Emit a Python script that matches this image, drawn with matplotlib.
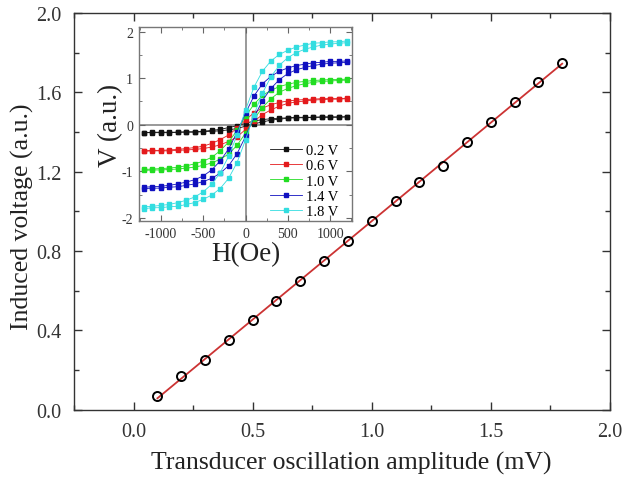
import numpy as np
import matplotlib
matplotlib.use("Agg")
import matplotlib.pyplot as plt
from matplotlib.ticker import MultipleLocator

plt.rcParams['font.family'] = ['Liberation Serif', 'DejaVu Serif']
plt.rcParams['axes.unicode_minus'] = False

# induced voltage vs transducer amplitude
amp = [0.1, 0.2, 0.3, 0.4, 0.5, 0.6, 0.7, 0.8, 0.9, 1.0,
       1.1, 1.2, 1.3, 1.4, 1.5, 1.6, 1.7, 1.8]
volt = [0.07, 0.17, 0.25, 0.35, 0.45, 0.55, 0.65, 0.75, 0.85, 0.95,
        1.05, 1.15, 1.23, 1.35, 1.45, 1.55, 1.65, 1.75]

# inset: V(H) loops for several drive voltages
field = list(range(-1200, 1201, 100))
drive_labels = ['0.2 V', '0.6 V', '1.0 V', '1.4 V', '1.8 V']
drive_colors = ['#111111', '#e41a1c', '#22dd22', '#1010c0', '#33dde0']

v_up = [
    [-0.17, -0.16, -0.16, -0.16, -0.16, -0.15, -0.15, -0.14, -0.12, -0.10, -0.06, -0.02, 0.03,
     0.08, 0.11, 0.13, 0.14, 0.15, 0.16, 0.16, 0.16, 0.17, 0.17, 0.17, 0.17],
    [-0.56, -0.55, -0.55, -0.54, -0.53, -0.51, -0.49, -0.46, -0.40, -0.32, -0.22, -0.07, 0.10,
     0.26, 0.36, 0.43, 0.48, 0.51, 0.53, 0.54, 0.55, 0.56, 0.56, 0.56, 0.57],
    [-0.96, -0.95, -0.94, -0.93, -0.91, -0.88, -0.84, -0.78, -0.70, -0.56, -0.37, -0.12, 0.18,
     0.44, 0.63, 0.74, 0.82, 0.87, 0.91, 0.93, 0.95, 0.96, 0.97, 0.97, 0.98],
    [-1.34, -1.33, -1.32, -1.30, -1.27, -1.23, -1.18, -1.10, -0.97, -0.78, -0.52, -0.16, 0.25,
     0.62, 0.88, 1.04, 1.15, 1.22, 1.27, 1.30, 1.33, 1.34, 1.36, 1.36, 1.37],
    [-1.76, -1.75, -1.73, -1.71, -1.67, -1.62, -1.55, -1.44, -1.28, -1.03, -0.68, -0.22, 0.32,
     0.81, 1.15, 1.37, 1.51, 1.60, 1.67, 1.71, 1.75, 1.76, 1.78, 1.78, 1.80],
]
v_down = [
    [-0.17, -0.17, -0.17, -0.17, -0.16, -0.16, -0.16, -0.15, -0.14, -0.13, -0.11, -0.08, -0.03,
     0.02, 0.06, 0.10, 0.12, 0.14, 0.15, 0.15, 0.16, 0.16, 0.16, 0.16, 0.17],
    [-0.57, -0.56, -0.56, -0.56, -0.55, -0.54, -0.53, -0.51, -0.48, -0.43, -0.36, -0.26, -0.10,
     0.07, 0.22, 0.32, 0.40, 0.46, 0.49, 0.51, 0.53, 0.54, 0.55, 0.55, 0.56],
    [-0.98, -0.97, -0.97, -0.96, -0.95, -0.93, -0.91, -0.87, -0.82, -0.74, -0.63, -0.44, -0.18,
     0.12, 0.37, 0.56, 0.70, 0.78, 0.84, 0.88, 0.91, 0.93, 0.94, 0.95, 0.96],
    [-1.37, -1.36, -1.36, -1.34, -1.33, -1.30, -1.27, -1.22, -1.15, -1.04, -0.88, -0.62, -0.25,
     0.16, 0.52, 0.78, 0.97, 1.10, 1.18, 1.23, 1.27, 1.30, 1.32, 1.33, 1.34],
    [-1.80, -1.78, -1.78, -1.76, -1.75, -1.71, -1.67, -1.60, -1.51, -1.37, -1.15, -0.81, -0.32,
     0.22, 0.68, 1.03, 1.28, 1.44, 1.55, 1.62, 1.67, 1.71, 1.73, 1.75, 1.76],
]

fig = plt.figure(figsize=(6.28, 4.81), dpi=100)
ax = fig.add_axes([0.118, 0.146, 0.853, 0.825])

# linear fit through the measured points
k, b = np.polyfit(amp, volt, 1)
xfit = np.array([amp[0], amp[-1]])
ax.plot(xfit, k * xfit + b, color='#cc3333', lw=1.3, zorder=2)
ax.plot(amp, volt, 'o', ms=6.5, mfc='none', mec='black', mew=1.4, zorder=3)

ax.set_xlim(-0.25, 2.0)
ax.set_ylim(0.0, 2.0)
ax.xaxis.set_major_locator(MultipleLocator(0.5))
ax.xaxis.set_minor_locator(MultipleLocator(0.25))
ax.yaxis.set_major_locator(MultipleLocator(0.4))
ax.yaxis.set_minor_locator(MultipleLocator(0.2))
ax.xaxis.set_major_formatter(plt.FormatStrFormatter('%.1f'))
ax.yaxis.set_major_formatter(plt.FormatStrFormatter('%.1f'))
ax.tick_params(which='both', direction='in', top=True, right=True,
               labelsize=14.5, colors='#333333', labelcolor='#333333', width=1.0)
ax.tick_params(which='major', length=6, pad=9)
ax.tick_params(which='minor', length=3.5)
for s in ax.spines.values():
    s.set_color('#333333')
    s.set_linewidth(1.0)
ax.set_xlabel('Transducer oscillation amplitude (mV)', fontsize=18.5, color='#222222')
ax.set_ylabel('Induced voltage (a.u.)', fontsize=18.5, color='#222222')
ax.xaxis.set_label_coords(0.517, -0.104)
ax.yaxis.set_label_coords(-0.075, 0.49)

# inset
ins = fig.add_axes([0.221, 0.538, 0.340, 0.404])
ins.axhline(0, color='#888888', lw=1.2, zorder=1)
ins.axvline(0, color='#888888', lw=1.2, zorder=1)
for i in range(len(drive_labels)):
    c = drive_colors[i]
    ins.plot(field, v_up[i], '-s', color=c, ms=2.6, lw=0.6, label=drive_labels[i], zorder=3)
    ins.plot(field, v_down[i], '-s', color=c, ms=2.6, lw=0.6, zorder=3)
ins.set_xlim(-1260, 1260)
ins.set_ylim(-2.07, 2.1)
ins.xaxis.set_major_locator(MultipleLocator(500))
ins.xaxis.set_minor_locator(MultipleLocator(250))
ins.yaxis.set_major_locator(MultipleLocator(1))
ins.yaxis.set_minor_locator(MultipleLocator(0.5))
ins.tick_params(which='both', direction='in', top=True, right=True,
                labelsize=10, colors='#666666', labelcolor='#333333')
ins.tick_params(which='major', length=4, pad=4)
ins.tick_params(which='minor', length=2.5)
for s in ins.spines.values():
    s.set_color('#777777')
    s.set_linewidth(1.0)
ins.set_xlabel('H(Oe)', fontsize=19.5, color='#222222', labelpad=1)
ins.set_ylabel('V (a.u.)', fontsize=19.5, color='#222222', labelpad=-1)
ins.legend(loc='lower right', bbox_to_anchor=(0.95, 0.0), frameon=False, fontsize=10.5,
           handlelength=2.2, handletextpad=0.3, labelspacing=0.15, borderaxespad=0.0,
           borderpad=0.2, markerscale=1.2)

fig.savefig('out.png', dpi=100)
